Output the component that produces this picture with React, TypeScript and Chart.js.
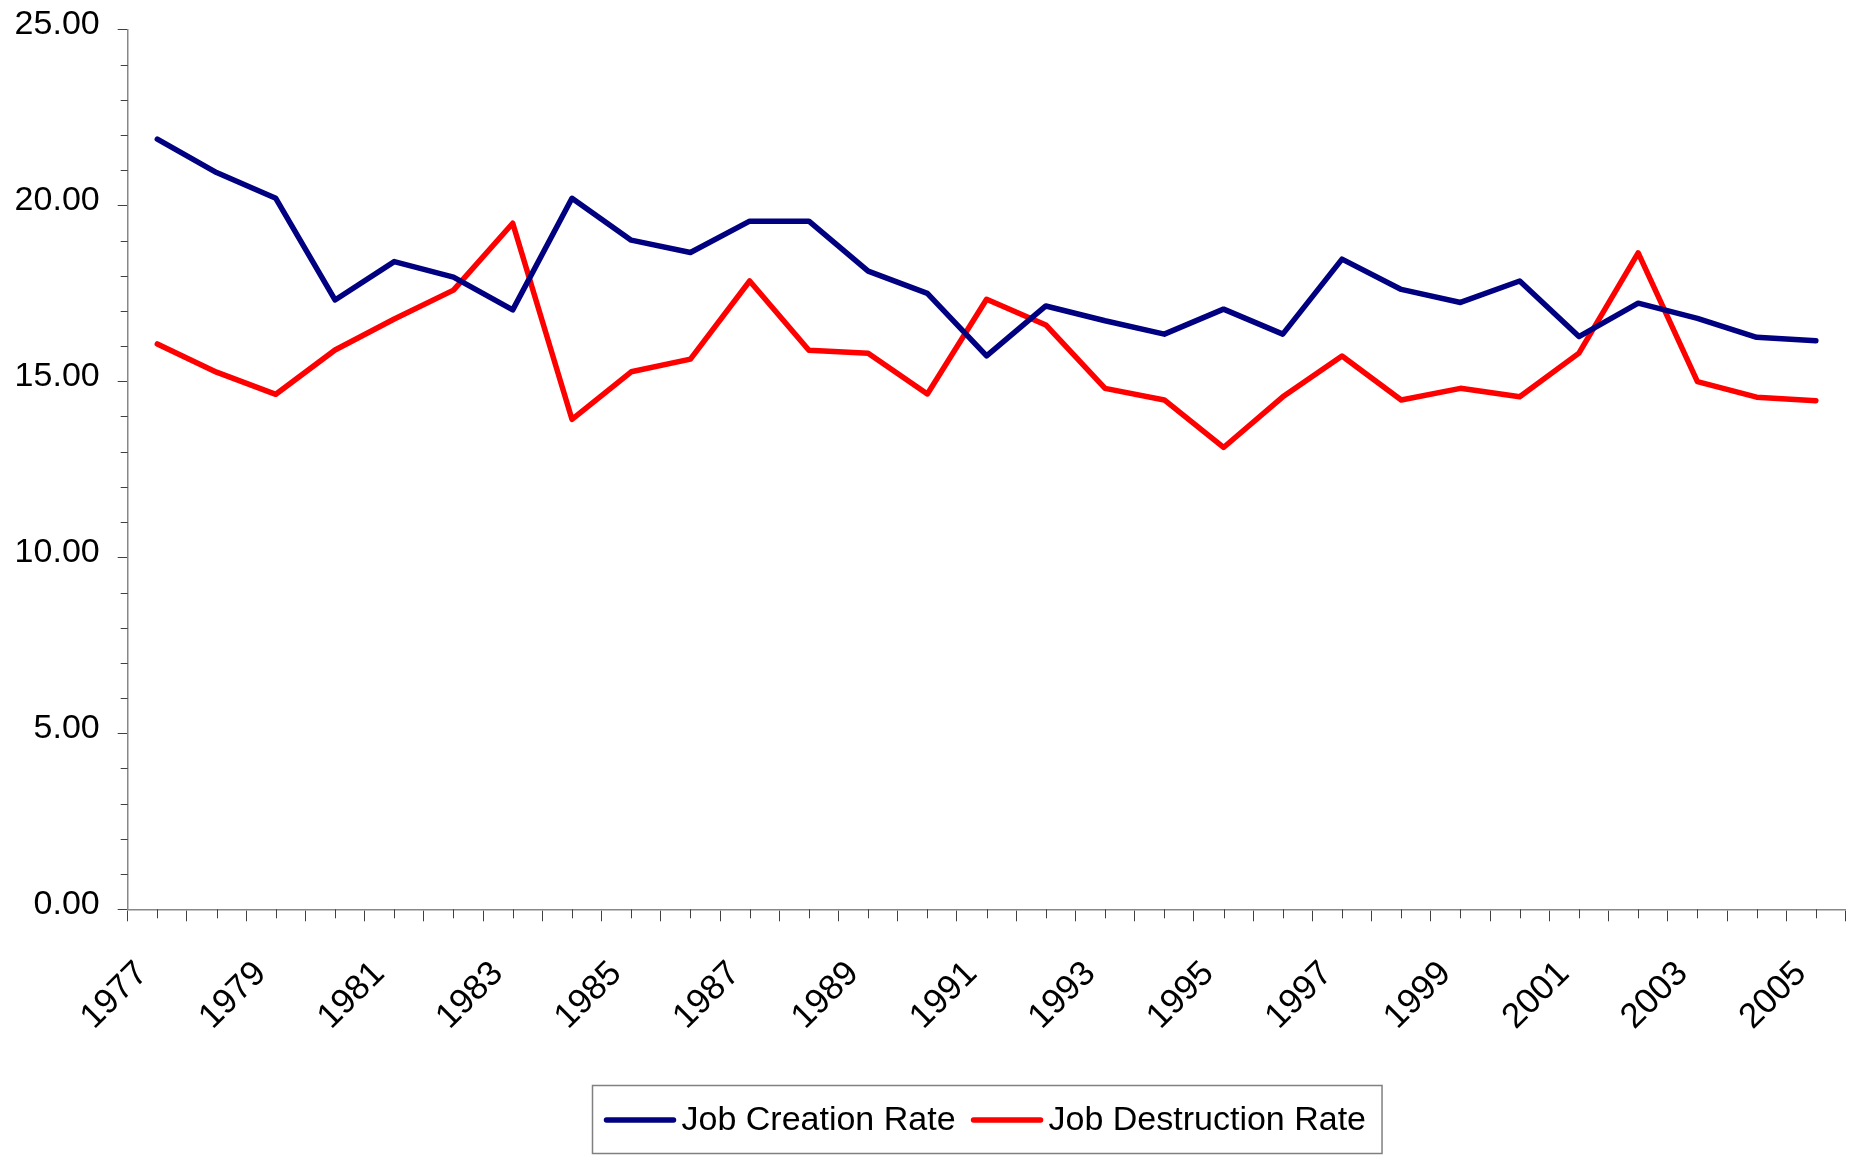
import React, { useEffect, useRef } from 'react';
import { Chart, registerables } from 'chart.js';

Chart.register(...registerables);

const years = [
  '1977', '1978', '1979', '1980', '1981', '1982', '1983', '1984', '1985', '1986',
  '1987', '1988', '1989', '1990', '1991', '1992', '1993', '1994', '1995', '1996',
  '1997', '1998', '1999', '2000', '2001', '2002', '2003', '2004', '2005',
];

const jobCreationRate = [
  21.88, 20.93, 20.2, 17.31, 18.4, 17.96, 17.03, 20.2, 19.01, 18.66,
  19.55, 19.55, 18.13, 17.5, 15.72, 17.14, 16.72, 16.34, 17.05, 16.34,
  18.47, 17.61, 17.24, 17.85, 16.27, 17.22, 16.79, 16.25, 16.15,
];

const jobDestructionRate = [
  16.06, 15.26, 14.63, 15.89, 16.77, 17.59, 19.49, 13.92, 15.27, 15.63,
  17.85, 15.88, 15.8, 14.64, 17.33, 16.6, 14.8, 14.47, 13.12, 14.56,
  15.72, 14.47, 14.8, 14.56, 15.8, 18.65, 14.99, 14.55, 14.45,
];

const seriesNames = ['Job Creation Rate', 'Job Destruction Rate'];
const seriesColors = ['#000080', '#FF0000'];

const yMin = 0;
const yMax = 25;
const yMajorStep = 5;
const yMinorStep = 1;

const FONT = "'Liberation Sans', Arial, sans-serif";
const W = 1858;
const H = 1155;

const minorTicksPlugin = {
  id: 'minorTicks',
  afterDraw(chart: any) {
    const { ctx, chartArea } = chart;
    const ys = chart.scales.y;
    const xs = chart.scales.x;
    ctx.save();
    ctx.strokeStyle = '#404040';
    ctx.lineWidth = 1;
    for (let v = yMin; v <= yMax; v += yMinorStep) {
      if (v % yMajorStep === 0) continue;
      const py = Math.round(ys.getPixelForValue(v)) + 0.5;
      ctx.beginPath();
      ctx.moveTo(chartArea.left - 7, py);
      ctx.lineTo(chartArea.left, py);
      ctx.stroke();
    }
    for (let i = 0; i < years.length; i++) {
      const px = Math.round(xs.getPixelForValue(i)) + 0.5;
      ctx.beginPath();
      ctx.moveTo(px, chartArea.bottom);
      ctx.lineTo(px, chartArea.bottom + 9);
      ctx.stroke();
    }
    ctx.restore();
  },
};

const boxLegendPlugin = {
  id: 'boxLegend',
  afterDraw(chart: any) {
    const { ctx, chartArea } = chart;
    const ds = chart.data.datasets;
    ctx.save();
    ctx.font = `34px ${FONT}`;
    const padL = 12;
    const lineLen = 71;
    const gap = 6;
    const itemGap = 16;
    const padR = 16;
    const widths = ds.map((d: any) => ctx.measureText(d.label).width);
    let total = padL + padR;
    widths.forEach((w: number, i: number) => {
      total += lineLen + gap + w + (i > 0 ? itemGap : 0);
    });
    const cx = (chartArea.left + chartArea.right) / 2;
    const left = Math.round(cx - total / 2) + 0.5;
    const top = chart.height - 69.5;
    const bottom = chart.height - 1.5;
    ctx.strokeStyle = '#808080';
    ctx.lineWidth = 1.5;
    ctx.strokeRect(left, top, total, bottom - top);
    let xp = left + padL;
    ds.forEach((d: any, i: number) => {
      if (i > 0) xp += itemGap;
      ctx.strokeStyle = d.borderColor;
      ctx.lineWidth = 5.5;
      ctx.lineCap = 'round';
      ctx.beginPath();
      ctx.moveTo(xp + 2, top + 34.5);
      ctx.lineTo(xp + lineLen - 2, top + 34.5);
      ctx.stroke();
      xp += lineLen + gap;
      ctx.fillStyle = '#000000';
      ctx.textBaseline = 'alphabetic';
      ctx.textAlign = 'left';
      ctx.fillText(d.label, xp, top + 44);
      xp += widths[i];
    });
    ctx.restore();
  },
};

export default function App() {
  const canvasRef = useRef<HTMLCanvasElement | null>(null);

  useEffect(() => {
    const canvas = canvasRef.current;
    if (!canvas) return;
    const chart = new Chart(canvas, {
      type: 'line',
      data: {
        labels: years,
        datasets: [
          {
            label: seriesNames[0],
            data: jobCreationRate,
            borderColor: seriesColors[0],
            backgroundColor: seriesColors[0],
            borderWidth: 5.5,
            pointRadius: 0,
            pointHoverRadius: 0,
            tension: 0,
            borderJoinStyle: 'round',
            borderCapStyle: 'round',
            fill: false,
          },
          {
            label: seriesNames[1],
            data: jobDestructionRate,
            borderColor: seriesColors[1],
            backgroundColor: seriesColors[1],
            borderWidth: 5.5,
            pointRadius: 0,
            pointHoverRadius: 0,
            tension: 0,
            borderJoinStyle: 'round',
            borderCapStyle: 'round',
            fill: false,
          },
        ],
      },
      options: {
        responsive: false,
        animation: false,
        events: [],
        layout: { padding: { top: 29.3, right: 12.5, left: 0, bottom: 0 } },
        plugins: {
          legend: { display: false },
          tooltip: { enabled: false },
          title: { display: false },
        },
        scales: {
          x: {
            type: 'category',
            offset: true,
            grid: {
              offset: true,
              drawOnChartArea: false,
              drawTicks: true,
              tickLength: 12,
              tickColor: '#404040',
              tickWidth: 1,
            },
            border: { display: true, color: '#888888', width: 1.5 },
            ticks: {
              autoSkip: false,
              maxRotation: 45,
              minRotation: 45,
              padding: 32,
              labelOffset: -15,
              color: '#000000',
              font: { family: FONT, size: 35 },
              callback: (_v: any, i: number) => (i % 2 === 0 ? years[i] : ''),
            },
            afterFit: (scale: any) => {
              scale.height = H - 909.3;
              scale.paddingLeft = 0;
              scale.paddingRight = 0;
            },
          },
          y: {
            type: 'linear',
            min: yMin,
            max: yMax,
            grid: {
              drawOnChartArea: false,
              drawTicks: true,
              tickLength: 10,
              tickColor: '#404040',
              tickWidth: 1,
            },
            border: { display: true, color: '#888888', width: 1.5 },
            ticks: {
              stepSize: yMajorStep,
              padding: 18,
              labelOffset: -5,
              color: '#000000',
              font: { family: FONT, size: 34 },
              callback: (v: any) => Number(v).toFixed(2),
            },
            afterFit: (scale: any) => {
              scale.width = 127.7;
              scale.paddingTop = 0;
              scale.paddingBottom = 0;
            },
          },
        },
      },
      plugins: [minorTicksPlugin, boxLegendPlugin],
    } as any);
    return () => chart.destroy();
  }, []);

  return (
    <div style={{ position: 'absolute', left: 0, top: 0, width: W, height: H, background: '#ffffff' }}>
      <canvas ref={canvasRef} width={W} height={H} style={{ display: 'block', width: W, height: H }} />
    </div>
  );
}
